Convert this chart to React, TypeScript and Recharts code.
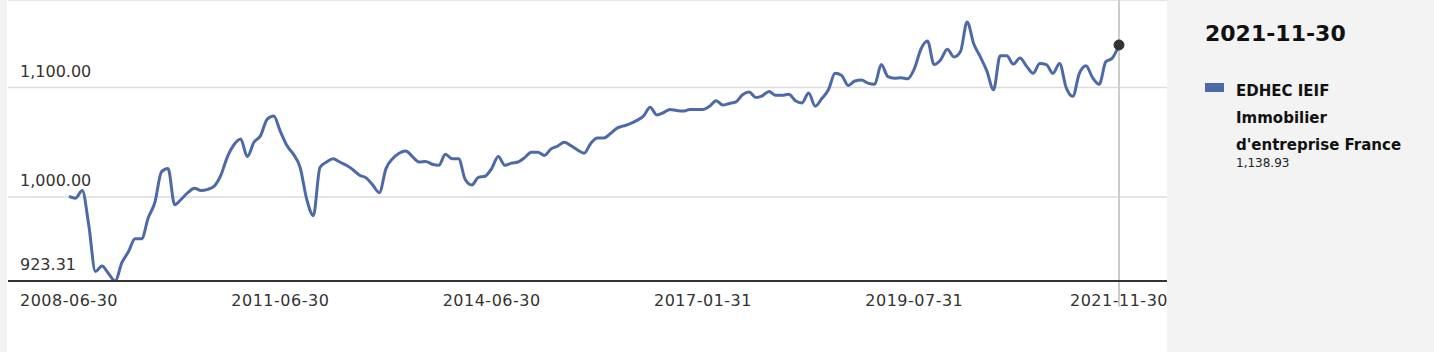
import { LineChart, Line, XAxis, YAxis, CartesianGrid, ReferenceLine, ReferenceDot } from "recharts"

const FONT = "'DejaVu Sans', sans-serif"
const LINE_COLOR = "#4d6aa8"

// tick labels of the x axis and the point index where each sits
const TICK_LABELS = ["2008-06-30", "2011-06-30", "2014-06-30", "2017-01-31", "2019-07-31", "2021-11-30"]
const TICK_INDEX = [0, 32, 64, 96, 128, 159]

const Y_TICKS = [923.31, 1000, 1100]

// EDHEC IEIF Immobilier d'entreprise France
const VALUES = [
    1000.6, 999, 1006, 974, 932, 937, 930, 923.31, 940, 950,
    962, 962, 981, 995, 1023, 1026, 993, 998, 1004, 1008,
    1006, 1007, 1010, 1020, 1037, 1048, 1053, 1037, 1050, 1056,
    1071, 1074, 1060, 1047, 1039, 1027, 998, 983, 1027, 1032,
    1035, 1032, 1029, 1025, 1020, 1017.5, 1011, 1004, 1026, 1035,
    1040, 1042, 1037, 1032, 1032.5, 1030, 1029, 1039, 1035, 1035,
    1016, 1011, 1018, 1019, 1026, 1037, 1029, 1031, 1032, 1036,
    1041, 1041, 1038, 1044, 1046.6, 1050, 1047, 1043, 1040, 1049,
    1054, 1054, 1058, 1063, 1065, 1067, 1070, 1074, 1082, 1075,
    1077, 1080, 1079, 1078.5, 1080, 1080, 1080, 1083, 1088, 1084,
    1085.5, 1087, 1093.5, 1096, 1091, 1092.5, 1096.5, 1093, 1093, 1094,
    1088, 1086, 1095, 1083, 1090, 1098, 1113, 1111, 1102, 1106,
    1107, 1104, 1103, 1121, 1110, 1108.5, 1109, 1108, 1117, 1135,
    1142.5, 1121, 1125.5, 1135, 1128, 1133, 1160, 1140, 1128, 1115,
    1098, 1129, 1129, 1121.5, 1127, 1119.6, 1113, 1122, 1121, 1113,
    1122, 1100, 1092, 1113, 1120, 1109, 1103, 1123.5, 1127, 1138.93,
]

const data = VALUES.map((value, idx) => ({ idx, value }))
const last = data[data.length - 1]

const fmt = (v: number) =>
    v.toLocaleString("en-US", { minimumFractionDigits: 2, maximumFractionDigits: 2 })

// y labels sit inside the plot, just above their grid line
const renderYTick = (props: any) => {
    const { y, payload } = props
    return (
        <text key={payload.value} x={13} y={y - 11} fill="#333" fontSize={16} fontFamily={FONT} textAnchor="start">
            {fmt(payload.value)}
        </text>
    )
}

export default function App() {
    return (
        <div style={{ position: "absolute", left: 0, top: 0, width: 1434, height: 352, background: "#f3f3f3", fontFamily: FONT }}>
            <div style={{ position: "absolute", left: 7, top: 0, width: 1160, height: 352, background: "#fff" }}>
                <LineChart width={1160} height={352} data={data} margin={{ top: 0, right: 0, bottom: 0, left: 0 }} style={{ overflow: "visible" }}>
                    <CartesianGrid vertical={false} stroke="#dddddd" strokeWidth={1.5} />
                    <XAxis
                        dataKey="idx"
                        type="number"
                        domain={[0, VALUES.length - 1]}
                        ticks={TICK_INDEX}
                        tickFormatter={(v) => TICK_LABELS[TICK_INDEX.indexOf(v)] ?? ""}
                        padding={{ left: 61, right: 48 }}
                        height={71}
                        tickLine={false}
                        tickMargin={8}
                        stroke="#333"
                        strokeWidth={2}
                        tick={{ fill: "#333", fontSize: 16, fontFamily: FONT, letterSpacing: 0.5 }}
                        interval={0}
                    />
                    <YAxis
                        domain={[923.31, 1180]}
                        ticks={Y_TICKS}
                        width={1}
                        axisLine={false}
                        tickLine={false}
                        tick={renderYTick}
                        interval={0}
                        allowDataOverflow
                    />
                    <ReferenceLine
                        segment={[{ x: last.idx, y: 1180 }, { x: last.idx, y: 900 }]}
                        stroke="#cccccc"
                        strokeWidth={2}
                        ifOverflow="visible"
                    />
                    <Line
                        type="monotone"
                        dataKey="value"
                        stroke={LINE_COLOR}
                        strokeWidth={3}
                        dot={false}
                        activeDot={false}
                        isAnimationActive={false}
                    />
                    <ReferenceDot x={last.idx} y={last.value} r={5} fill="#333" stroke="#333" />
                </LineChart>
            </div>
            <div style={{ position: "absolute", left: 1205, top: 0, width: 220, color: "#111" }}>
                <div style={{ position: "absolute", top: 21, left: 0, fontSize: 22, fontWeight: "bold", whiteSpace: "nowrap" }}>
                    {TICK_LABELS[TICK_LABELS.length - 1]}
                </div>
                <div style={{ position: "absolute", top: 83, left: 0, width: 19, height: 9, background: LINE_COLOR }} />
                <div style={{ position: "absolute", top: 78, left: 31, fontSize: 15, fontWeight: "bold", lineHeight: "27px", whiteSpace: "nowrap" }}>
                    EDHEC IEIF<br />Immobilier<br />d'entreprise France
                </div>
                <div style={{ position: "absolute", top: 156, left: 31, fontSize: 12, color: "#222" }}>
                    {fmt(last.value)}
                </div>
            </div>
        </div>
    )
}
